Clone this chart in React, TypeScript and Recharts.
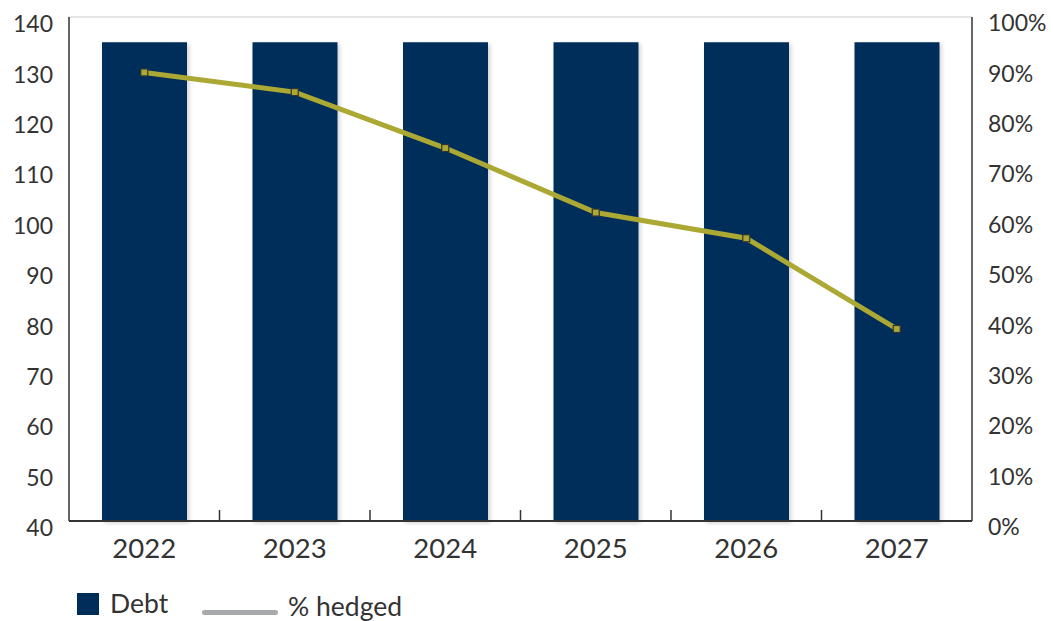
import React from 'react'
import { ComposedChart, Bar, Line, XAxis, YAxis, CartesianGrid, Legend } from 'recharts'

const years = ['2022', '2023', '2024', '2025', '2026', '2027']
const debt = [135, 135, 135, 135, 135, 135]
const hedged = [89.0, 85.1, 74.0, 61.2, 56.1, 38.1]

const leftTicks = [40, 50, 60, 70, 80, 90, 100, 110, 120, 130, 140]
const rightTicks = [0, 10, 20, 30, 40, 50, 60, 70, 80, 90, 100]

const NAVY = '#002d5a'
const OLIVE = '#aba834'
const FONT = 'Lato, "Open Sans", sans-serif'
const X_TICK_MARGIN = 18

const chartData = years.map((year, i) => ({
  year,
  debt: debt[i],
  hedged: hedged[i],
}))

// square markers like the original
const SquareDot = (props: any) => {
  const { cx, cy } = props
  if (cx == null || cy == null) return null
  return <rect x={cx - 3.5} y={cy - 3.5} width={7} height={7} fill={OLIVE} stroke="#333" strokeWidth={1.2} />
}

// year label plus the small upward tick at the category boundary
const YearTick = (props: any) => {
  const { x, y, payload, index, visibleTicksCount } = props
  const half = payload && payload.offset ? payload.offset : 75.25
  const axisY = y - X_TICK_MARGIN
  const last = visibleTicksCount != null ? index === visibleTicksCount - 1 : index === years.length - 1
  return (
    <g>
      {!last && (
        <line x1={x + half} x2={x + half} y1={axisY - 11} y2={axisY} stroke="#333" strokeWidth={1.5} />
      )}
      <text x={x} y={y} dy={19} textAnchor="middle" fill="#333" fontSize={27.5} fontFamily={FONT}>
        {payload.value}
      </text>
    </g>
  )
}

const LegendContent = () => (
  <div style={{ position: 'relative', height: 40, fontFamily: FONT, fontSize: 26.5, color: '#333' }}>
    <div style={{ position: 'absolute', left: 77, top: 18, width: 22, height: 22, background: NAVY }} />
    <div style={{ position: 'absolute', left: 110, top: 12, lineHeight: '32px' }}>Debt</div>
    <div style={{ position: 'absolute', left: 202, top: 35, width: 76, height: 5, borderRadius: 3, background: '#a7a9ac' }} />
    <div style={{ position: 'absolute', left: 288, top: 15, lineHeight: '32px' }}>% hedged</div>
  </div>
)

export default function App() {
  return (
    <div style={{ position: 'absolute', left: 0, top: 0, width: 1053, height: 621, background: '#fff' }}>
      <ComposedChart
        width={1053}
        height={621}
        data={chartData}
        margin={{ top: 17, right: 0, left: 0, bottom: 0 }}
      >
        <defs>
          <filter id="barShadow" x="-10%" y="-10%" width="130%" height="130%">
            <feDropShadow dx="2" dy="2" stdDeviation="2" floodColor="#000" floodOpacity="0.18" />
          </filter>
        </defs>
        <CartesianGrid vertical={false} stroke="#dcdcdc" strokeWidth={1.5} />
        <XAxis
          dataKey="year"
          axisLine={{ stroke: '#333', strokeWidth: 2 }}
          tickLine={false}
          tickSize={0}
          tickMargin={X_TICK_MARGIN}
          height={54}
          interval={0}
          tick={<YearTick />}
        />
        <YAxis
          yAxisId="left"
          domain={[40, 140]}
          ticks={leftTicks}
          interval={0}
          width={69}
          axisLine={{ stroke: '#333', strokeWidth: 1.5 }}
          tickLine={false}
          tickSize={0}
          tickMargin={16}
          tick={{ fill: '#333', fontSize: 23, fontFamily: FONT, dy: 7 }}
        />
        <YAxis
          yAxisId="right"
          orientation="right"
          domain={[0, 100]}
          ticks={rightTicks}
          interval={0}
          width={81}
          tickFormatter={(v: number) => `${v}%`}
          axisLine={{ stroke: '#333', strokeWidth: 1.5 }}
          tickLine={false}
          tickSize={0}
          tickMargin={16}
          tick={{ fill: '#333', fontSize: 23, fontFamily: FONT, dy: 6 }}
        />
        <Bar
          yAxisId="left"
          dataKey="debt"
          name="Debt"
          fill={NAVY}
          barSize={85}
          filter="url(#barShadow)"
          isAnimationActive={false}
        />
        <Line
          yAxisId="right"
          dataKey="hedged"
          name="% hedged"
          stroke={OLIVE}
          strokeWidth={5}
          dot={<SquareDot />}
          activeDot={false}
          isAnimationActive={false}
        />
        <Legend verticalAlign="bottom" height={46} content={<LegendContent />} />
      </ComposedChart>
    </div>
  )
}
